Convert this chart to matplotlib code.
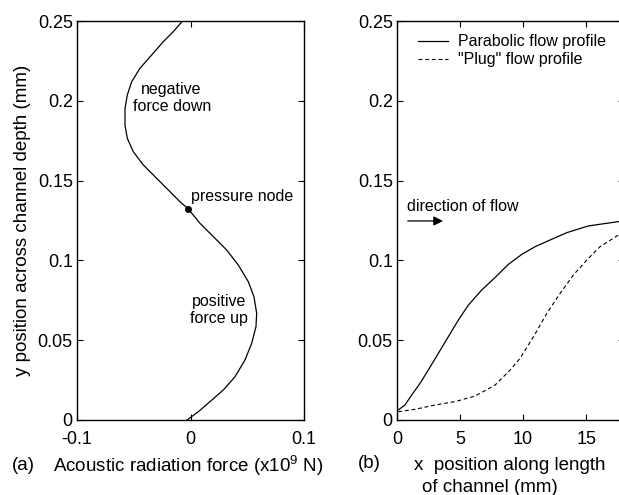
import matplotlib
matplotlib.use('Agg')
import matplotlib.pyplot as plt

plt.rcParams['font.family'] = ['Liberation Sans', 'DejaVu Sans']
plt.rcParams['mathtext.default'] = 'regular'
plt.rcParams['axes.unicode_minus'] = False

# (a) acoustic radiation force vs y position
force = [-0.003, 0.0069, 0.0172, 0.0289, 0.0392, 0.048, 0.0539, 0.0577, 0.0583,
         0.0559, 0.0509, 0.0421, 0.0319, 0.0201, 0.0084, -0.0019, -0.0093,
         -0.018, -0.0298, -0.0416, -0.0504, -0.0557, -0.0577, -0.0577, -0.0557,
         -0.0518, -0.0445, -0.0342, -0.024, -0.0152, -0.0063]
y_force = [0.0, 0.0052, 0.0115, 0.0188, 0.0271, 0.0376, 0.048, 0.0585, 0.0669,
           0.0773, 0.0867, 0.0971, 0.1065, 0.1149, 0.1232, 0.1322, 0.1368,
           0.143, 0.1514, 0.1598, 0.1681, 0.1765, 0.1848, 0.1953, 0.2036,
           0.212, 0.2204, 0.2287, 0.237, 0.2433, 0.2506]
node_force, node_y = -0.0019, 0.1322

# (b) particle trajectories
x_para = [0.1, 0.63, 1.17, 1.83, 2.48, 3.28, 4.07, 4.87, 5.66, 6.72, 7.78,
          8.83, 9.9, 10.95, 12.14, 13.47, 15.18, 17.56, 17.8]
y_para = [0.0063, 0.0094, 0.0157, 0.023, 0.0313, 0.0418, 0.0522, 0.0627,
          0.072, 0.0815, 0.0893, 0.0975, 0.1038, 0.1086, 0.1128, 0.1174,
          0.1216, 0.1243, 0.1245]
x_plug = [0.1, 1.43, 3.02, 4.6, 6.19, 7.78, 8.97, 9.76, 10.82, 11.88, 12.94,
          13.99, 15.06, 16.1, 17.56, 17.8]
y_plug = [0.0052, 0.0067, 0.0094, 0.0115, 0.015, 0.0219, 0.0313, 0.0387,
          0.0522, 0.0668, 0.0794, 0.0909, 0.1003, 0.1086, 0.1159, 0.1168]

yticks = [0, 0.05, 0.1, 0.15, 0.2, 0.25]
ytick_labels = ['0', '0.05', '0.1', '0.15', '0.2', '0.25']

W, H = 619, 495
fig = plt.figure(figsize=(W / 100, H / 100), dpi=100)
ax1 = fig.add_axes([77 / W, 1 - 420 / H, 227 / W, 399 / H])
ax2 = fig.add_axes([397 / W, 1 - 420 / H, 227 / W, 399 / H])

for ax in (ax1, ax2):
    ax.tick_params(direction='in', top=True, right=True, length=4,
                   width=0.8, labelsize=13)
    ax.tick_params(axis='x', pad=8)
    ax.tick_params(axis='y', pad=3)
    ax.set_yticks(yticks)
    ax.set_yticklabels(ytick_labels)
    ax.set_ylim(0, 0.25)
    for s in ax.spines.values():
        s.set_linewidth(1.0)

ax1.plot(force, y_force, color='black', lw=0.9)
ax1.plot(node_force, node_y, 'o', color='black', ms=4)
ax1.set_xlim(-0.1, 0.1)
ax1.set_xticks([-0.1, 0, 0.1])
ax1.set_xticklabels(['-0.1', '0', '0.1'])
ax1.text(-0.0166, 0.2017, 'negative\nforce down', ha='center', va='center',
         fontsize=11.5, linespacing=1.1)
ax1.text(0.0002, 0.14, 'pressure node', ha='left', va='center', fontsize=11.5)
ax1.text(0.0254, 0.0689, 'positive\nforce up', ha='center', va='center',
         fontsize=11.5, linespacing=1.1)
ax1.set_ylabel('y position across channel depth (mm)', fontsize=13.5, labelpad=5)

ax2.plot(x_para, y_para, color='black', lw=0.9, label='Parabolic flow profile')
ax2.plot(x_plug, y_plug, color='black', lw=0.8, linestyle=(0, (3.5, 2.5)),
         label='"Plug" flow profile')
ax2.set_xlim(0, 18)
ax2.set_xticks([0, 5, 10, 15])
ax2.set_xticklabels(['0', '5', '10', '15'])
ax2.legend(loc='upper left', bbox_to_anchor=(0.0925, 0.967), frameon=False,
           fontsize=11.5, handlelength=1.9, handletextpad=0.6,
           labelspacing=0.2, borderpad=0, borderaxespad=0)
ax2.text(0.8, 0.1335, 'direction of flow', ha='left', va='center', fontsize=11.5)
ax2.annotate('', xy=(3.65, 0.1247), xytext=(0.85, 0.1247),
             arrowprops=dict(arrowstyle='-|>', color='black', lw=0.9,
                             mutation_scale=14, shrinkA=0, shrinkB=0))

fig.text(12 / W, 1 - 465 / H, '(a)', fontsize=13.5, va='center', ha='left')
fig.text(53 / W, 1 - 466 / H, 'Acoustic radiation force (x10$^9$ N)',
         fontsize=13.5, va='center', ha='left')
fig.text(358 / W, 1 - 463 / H, '(b)', fontsize=13.5, va='center', ha='left')
fig.text(414 / W, 1 - 466 / H, 'x  position along length', fontsize=13.5,
         va='center', ha='left')
fig.text(422 / W, 1 - 487 / H, 'of channel (mm)', fontsize=13.5,
         va='center', ha='left')

fig.savefig('out.png', dpi=100)
